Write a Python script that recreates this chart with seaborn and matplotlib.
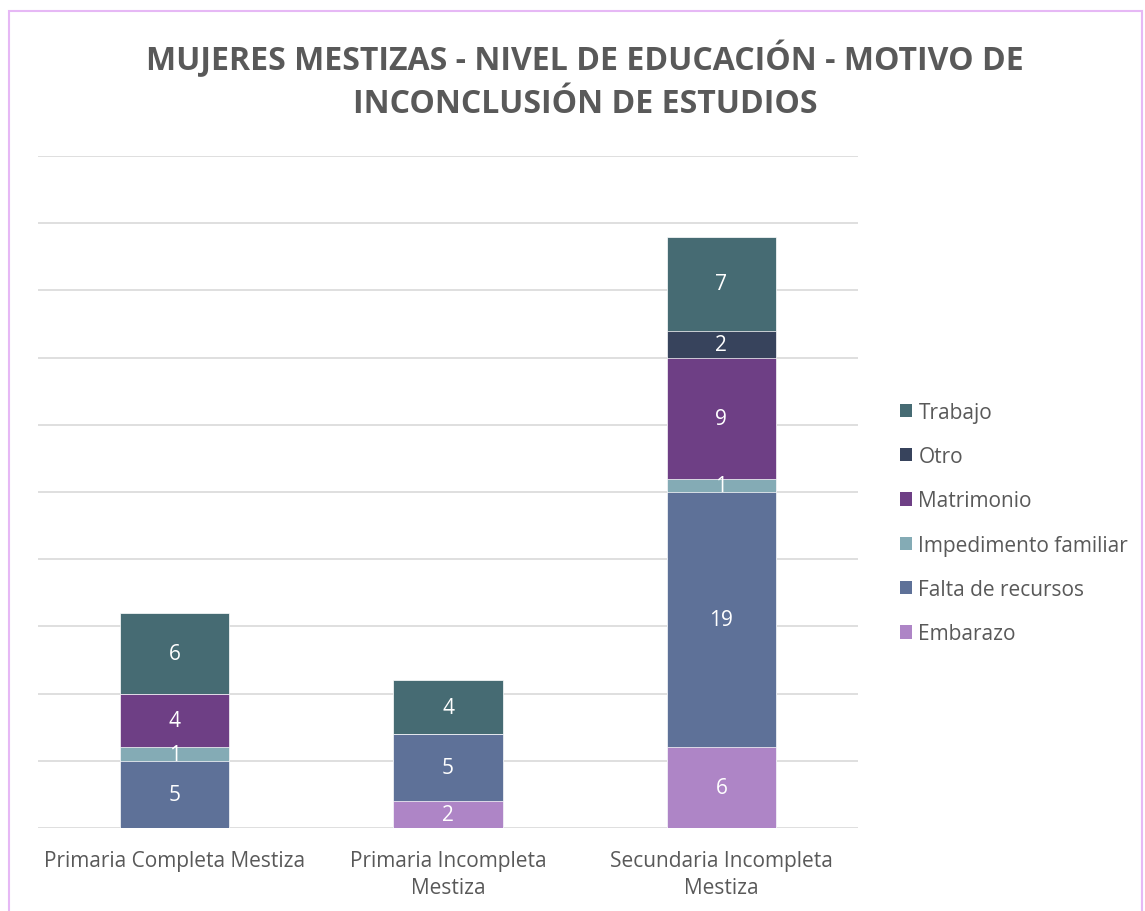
import numpy as np
import pandas as pd
import matplotlib
matplotlib.use("Agg")
import matplotlib.pyplot as plt
from matplotlib.patches import Patch, Rectangle
import seaborn as sns

# ---------------------------------------------------------------------
# Data
# ---------------------------------------------------------------------
CATEGORIES = ["Primaria Completa Mestiza",
              "Primaria Incompleta\nMestiza",
              "Secundaria Incompleta\nMestiza"]
SERIES = ["Embarazo", "Falta de recursos", "Impedimento familiar",
          "Matrimonio", "Otro", "Trabajo"]
embarazo = [0, 2, 6]
falta_recursos = [5, 5, 19]
impedimento = [1, 0, 1]
matrimonio = [4, 0, 9]
otro = [0, 0, 2]
trabajo = [6, 4, 7]
VALUES = [embarazo, falta_recursos, impedimento, matrimonio, otro, trabajo]

COLORS = {"Embarazo": "#AE85C6",
          "Falta de recursos": "#5E7198",
          "Impedimento familiar": "#84ABB5",
          "Matrimonio": "#6E3F85",
          "Otro": "#37435C",
          "Trabajo": "#466B73"}

TEXT_GREY = "#595959"

sns.set_theme(style="white")
plt.rcParams["font.family"] = ["Open Sans", "DejaVu Sans"]

fig = plt.figure(figsize=(11.45, 9.12), dpi=100)
ax = fig.add_axes([38 / 1145, 1 - 829 / 912, 820 / 1145, 672 / 912])

# long table with cumulative heights for stacking
rows = []
cum = np.zeros(len(CATEGORIES))
for name, vals in zip(SERIES, VALUES):
    bottom = cum.copy()
    cum = cum + np.array(vals)
    for i, cat in enumerate(CATEGORIES):
        rows.append({"cat": cat, "series": name, "value": vals[i],
                     "bottom": bottom[i], "top": cum[i]})
df = pd.DataFrame(rows)

# draw from the top layer downward so each cumulative bar covers the one above
for name in reversed(SERIES):
    sub = df[df["series"] == name]
    sns.barplot(data=sub, x="cat", y="top", order=CATEGORIES,
                color=COLORS[name], width=0.4, saturation=1,
                edgecolor="white", linewidth=0.5, ax=ax, zorder=3)

for _, r in df.iterrows():
    if r["value"] > 0:
        xi = CATEGORIES.index(r["cat"])
        ax.text(xi, (r["bottom"] + r["top"]) / 2, f"{int(r['value'])}",
                ha="center", va="center", color="white", fontsize=15,
                zorder=5)

ax.set_ylim(0, 50)
ax.set_xlim(-0.5, 2.5)
ax.set_yticks(np.arange(0, 51, 5))
ax.set_yticklabels([])
ax.yaxis.grid(True, color="#D9D9D9", linewidth=1.2, zorder=0)
ax.set_axisbelow(True)
for s in ax.spines.values():
    s.set_visible(False)
ax.set_xlabel("")
ax.set_ylabel("")
ax.tick_params(axis="x", length=0, pad=16, labelsize=15, labelcolor=TEXT_GREY)
ax.tick_params(axis="y", length=0)
for lbl in ax.get_xticklabels():
    lbl.set_linespacing(1.35)

handles = [Patch(facecolor=COLORS[n], edgecolor="none") for n in reversed(SERIES)]
fig.legend(handles, list(reversed(SERIES)), loc="center left",
           bbox_to_anchor=(881 / 1145, 1 - 524 / 912), frameon=False,
           fontsize=15, labelcolor=TEXT_GREY, handlelength=0.6,
           handleheight=0.6, handletextpad=0.3, labelspacing=1.12)

fig.text(585 / 1145, 1 - 81 / 912,
         "MUJERES MESTIZAS - NIVEL DE EDUCACIÓN - MOTIVO DE\nINCONCLUSIÓN DE ESTUDIOS",
         ha="center", va="center", fontsize=23, fontweight="bold",
         color=TEXT_GREY, linespacing=1.38)

fig.patches.append(Rectangle((9 / 1145, -0.05), 1133 / 1145, 1.05 - 12 / 912,
                             transform=fig.transFigure, fill=False,
                             edgecolor="#E6B8F5", linewidth=1.5))

fig.savefig("out.png", dpi=100)
